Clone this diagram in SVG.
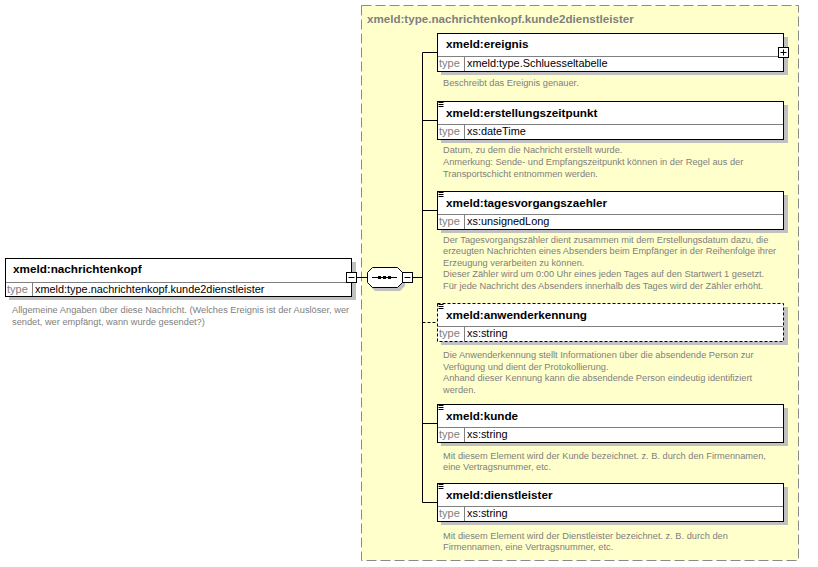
<svg xmlns="http://www.w3.org/2000/svg" width="818" height="567" viewBox="0 0 818 567">
<style>
.bg{fill:#ffffff}
.grp{fill:#ffffcc;stroke:#8a8a8a;stroke-width:1;stroke-dasharray:10,4}
.shadow{fill:#c0c0c0}
.box{fill:#ffffff;stroke:#000000;stroke-width:1}
.dbox{fill:#ffffff;stroke:#000000;stroke-width:1;stroke-dasharray:3,2}
.div{stroke:#808080;stroke-width:1;fill:none}
.hdr{font-family:"Liberation Sans",Arial,sans-serif;font-weight:bold;font-size:11.7px;fill:#000}
.typ{font-family:"Liberation Sans",Arial,sans-serif;font-size:11px;fill:#808080}
.val{font-family:"Liberation Sans",Arial,sans-serif;font-size:10.9px;fill:#000}
.desc{font-family:"Liberation Sans",Arial,sans-serif;font-size:9.25px;fill:#808080}
.title{font-family:"Liberation Sans",Arial,sans-serif;font-weight:bold;font-size:11.6px;fill:#808080}
.ln{stroke:#000;stroke-width:1;fill:none}
.dln{stroke:#000;stroke-width:1;fill:none;stroke-dasharray:3,2}
.btn{fill:#fff;stroke:#000;stroke-width:1}
</style>
<defs>
<g id="icon"><path d="M1.5,1.5h5M1.5,3.5h5M1.5,5.5h5" stroke="#000" stroke-width="1" fill="none"/></g>
</defs>
<rect class="bg" x="0" y="0" width="818" height="567"/>
<g id="group-type">
<rect class="grp" x="361.5" y="5.5" width="437" height="555"/>
<text class="title" x="367" y="23">xmeld:type.nachrichtenkopf.kunde2dienstleister</text>
</g>
<g id="connectors">
<path class="ln" d="M357,277.5H367"/>
<path class="ln" d="M412,277.5H422.5"/>
<path class="ln" d="M422.5,52.5V502.5"/>
<path class="ln" d="M422.5,52.5H437"/>
<path class="ln" d="M422.5,120.5H437"/>
<path class="ln" d="M422.5,210.5H437"/>
<path class="dln" d="M422.5,322.5H437"/>
<path class="ln" d="M422.5,423.5H437"/>
<path class="ln" d="M422.5,502.5H437"/>
</g>
<g id="node-nachrichtenkopf">
<rect class="shadow" x="9" y="262" width="347" height="38"/>
<rect class="box" x="5.5" y="258.5" width="346" height="38"/>
<path class="div" d="M6,282.5H351M32.5,283V296"/>
<text class="hdr" x="13" y="273">xmeld:nachrichtenkopf</text>
<text class="typ" x="7" y="293">type</text>
<text class="val" x="35" y="293">xmeld:type.nachrichtenkopf.kunde2dienstleister</text>
<rect class="btn" x="346.5" y="272.5" width="10" height="10"/>
<path class="ln" d="M348.5,277.5H354.5"/>
<text class="desc" x="12" y="313">Allgemeine Angaben über diese Nachricht. (Welches Ereignis ist der Auslöser, wer</text>
<text class="desc" x="12" y="324.5">sendet, wer empfängt, wann wurde gesendet?)</text>
</g>
<g id="node-sequence">
<polygon class="shadow" points="375,271 400,271 405,276 405,286 400,291 375,291 370,286 370,276"/>
<polygon class="box" points="372.5,267.5 397.5,267.5 402.5,272.5 402.5,282.5 397.5,287.5 372.5,287.5 367.5,282.5 367.5,272.5"/>
<path class="ln" d="M372,277.5H397"/>
<rect x="378" y="276" width="3" height="3" fill="#000"/>
<rect x="383" y="276" width="3" height="3" fill="#000"/>
<rect x="388" y="276" width="3" height="3" fill="#000"/>
<rect class="btn" x="402.5" y="272.5" width="10" height="10"/>
<path class="ln" d="M404.5,277.5H410.5"/>
</g>
<g id="node-ereignis">
<rect class="shadow" x="441" y="37" width="347" height="38"/>
<rect class="box" x="437.5" y="33.5" width="346" height="38"/>
<path class="div" d="M438,56.5H783M464.5,57V71"/>
<text class="hdr" x="446" y="48">xmeld:ereignis</text>
<text class="typ" x="439" y="67">type</text>
<text class="val" x="467" y="67">xmeld:type.Schluesseltabelle</text>
<rect class="btn" x="778.5" y="47.5" width="10" height="10"/>
<path class="ln" d="M780.5,52.5H786.5M783.5,49.5V55.5"/>
<text class="desc" x="443" y="86">Beschreibt das Ereignis genauer.</text>
</g>
<g id="node-erstellungszeitpunkt">
<rect class="shadow" x="441" y="105" width="347" height="38"/>
<rect class="box" x="437.5" y="101.5" width="346" height="38"/>
<use href="#icon" x="437" y="101"/>
<path class="div" d="M438,124.5H783M464.5,125V139"/>
<text class="hdr" x="446" y="117">xmeld:erstellungszeitpunkt</text>
<text class="typ" x="439" y="135">type</text>
<text class="val" x="467" y="135">xs:dateTime</text>
<text class="desc" x="443" y="152.5">Datum, zu dem die Nachricht erstellt wurde.</text>
<text class="desc" x="443" y="164.5">Anmerkung: Sende- und Empfangszeitpunkt können in der Regel aus der</text>
<text class="desc" x="443" y="176.5">Transportschicht entnommen werden.</text>
</g>
<g id="node-tagesvorgangszaehler">
<rect class="shadow" x="441" y="195" width="347" height="38"/>
<rect class="box" x="437.5" y="191.5" width="346" height="38"/>
<use href="#icon" x="437" y="191"/>
<path class="div" d="M438,214.5H783M464.5,215V229"/>
<text class="hdr" x="446" y="207">xmeld:tagesvorgangszaehler</text>
<text class="typ" x="439" y="225">type</text>
<text class="val" x="467" y="225">xs:unsignedLong</text>
<text class="desc" x="443" y="242.5">Der Tagesvorgangszähler dient zusammen mit dem Erstellungsdatum dazu, die</text>
<text class="desc" x="443" y="254">erzeugten Nachrichten eines Absenders beim Empfänger in der Reihenfolge ihrer</text>
<text class="desc" x="443" y="265.5">Erzeugung verarbeiten zu können.</text>
<text class="desc" x="443" y="277">Dieser Zähler wird um 0:00 Uhr eines jeden Tages auf den Startwert 1 gesetzt.</text>
<text class="desc" x="443" y="288.5">Für jede Nachricht des Absenders innerhalb des Tages wird der Zähler erhöht.</text>
</g>
<g id="node-anwenderkennung">
<rect class="shadow" x="441" y="307" width="347" height="38"/>
<rect class="dbox" x="437.5" y="303.5" width="346" height="38"/>
<use href="#icon" x="437" y="303"/>
<path class="div" d="M438,326.5H783M464.5,327V341"/>
<text class="hdr" x="446" y="319">xmeld:anwenderkennung</text>
<text class="typ" x="439" y="337">type</text>
<text class="val" x="467" y="337">xs:string</text>
<text class="desc" x="443" y="358">Die Anwenderkennung stellt Informationen über die absendende Person zur</text>
<text class="desc" x="443" y="369.5">Verfügung und dient der Protokollierung.</text>
<text class="desc" x="443" y="381">Anhand dieser Kennung kann die absendende Person eindeutig identifiziert</text>
<text class="desc" x="443" y="392.5">werden.</text>
</g>
<g id="node-kunde">
<rect class="shadow" x="441" y="408" width="347" height="38"/>
<rect class="box" x="437.5" y="404.5" width="346" height="38"/>
<use href="#icon" x="437" y="404"/>
<path class="div" d="M438,427.5H783M464.5,428V442"/>
<text class="hdr" x="446" y="420">xmeld:kunde</text>
<text class="typ" x="439" y="438">type</text>
<text class="val" x="467" y="438">xs:string</text>
<text class="desc" x="443" y="458.5">Mit diesem Element wird der Kunde bezeichnet. z. B. durch den Firmennamen,</text>
<text class="desc" x="443" y="470">eine Vertragsnummer, etc.</text>
</g>
<g id="node-dienstleister">
<rect class="shadow" x="441" y="487" width="347" height="38"/>
<rect class="box" x="437.5" y="483.5" width="346" height="38"/>
<use href="#icon" x="437" y="483"/>
<path class="div" d="M438,506.5H783M464.5,507V521"/>
<text class="hdr" x="446" y="499">xmeld:dienstleister</text>
<text class="typ" x="439" y="517">type</text>
<text class="val" x="467" y="517">xs:string</text>
<text class="desc" x="443" y="538.5">Mit diesem Element wird der Dienstleister bezeichnet. z. B. durch den</text>
<text class="desc" x="443" y="550">Firmennamen, eine Vertragsnummer, etc.</text>
</g>
</svg>
